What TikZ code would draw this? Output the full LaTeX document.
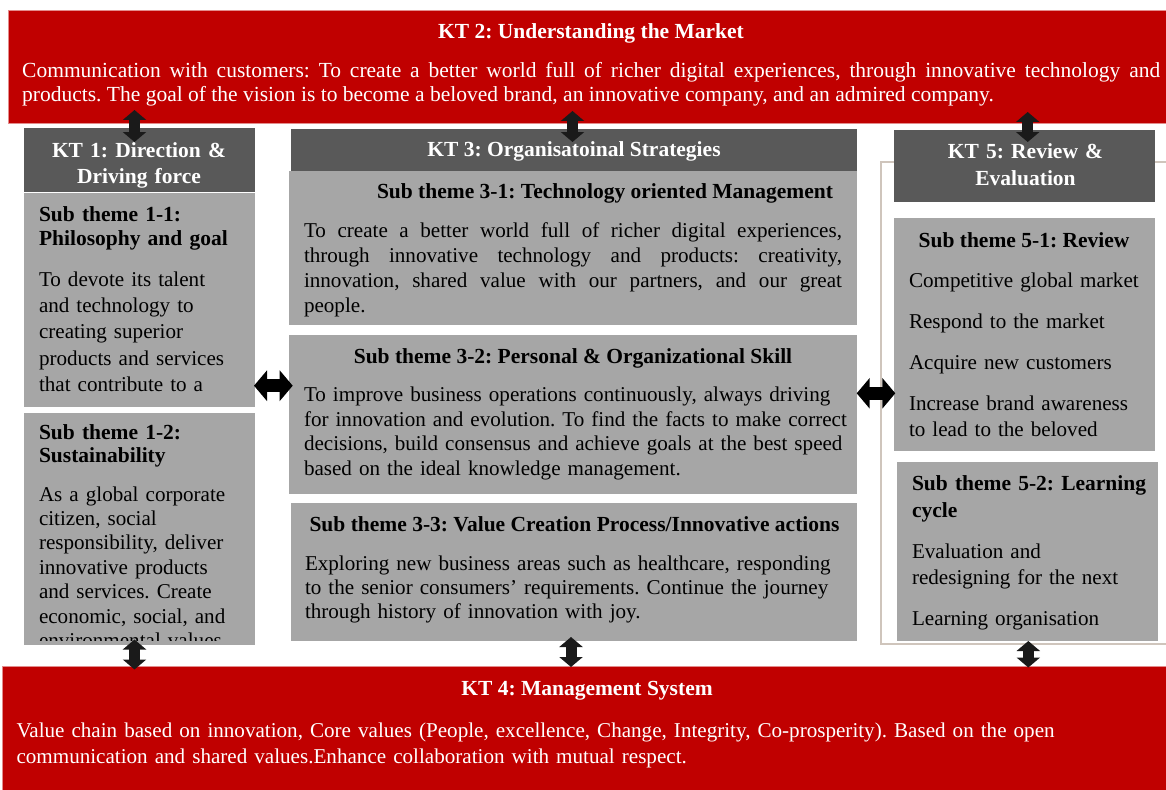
\documentclass[tikz,border=0pt]{standalone}
\usepackage{fontspec}
\setmainfont{Liberation Serif}
\usetikzlibrary{calc, positioning}
\usetikzlibrary{arrows.meta}

\definecolor{ktred}{HTML}{C00000}
\definecolor{ktdark}{HTML}{595959}
\definecolor{ktlight}{HTML}{A6A6A6}
\definecolor{ktframe}{HTML}{CFC5BC}
\definecolor{ktarrow}{HTML}{1A1A1A}

\tikzset{
  panel/.style={anchor=north west, inner sep=0pt, outer sep=0pt},
  redpanel/.style={panel, fill=ktred, draw=ktred!45!white, line width=0.8pt},
  headpanel/.style={panel, fill=ktdark},
  subpanel/.style={panel, fill=ktlight},
  txt/.style={inner sep=0pt, outer sep=0pt, font=\fontsize{21.1}{#1}\selectfont},
  txt/.default=24.5,
  boldtxt/.style={inner sep=0pt, outer sep=0pt, font=\fontsize{21.5}{#1}\selectfont\bfseries},
  boldtxt/.default=24.5,
  headtxt/.style={boldtxt=#1, anchor=base, align=center, text=white},
  headtxt/.default=26.5,
  subtitle/.style={boldtxt=#1, anchor=base west, align=left},
  subtitle/.default=24.5,
  bodytxt/.style={txt=#1, anchor=base west, align=left},
  bodytxt/.default=24.5,
  vlink/.style={ktarrow, line width=11pt,
    {Triangle[length=10pt, width=23pt]}-{Triangle[length=10pt, width=23pt]}},
  hlink/.style={black, line width=12.5pt,
    {Triangle[length=13pt, width=30pt]}-{Triangle[length=13pt, width=30pt]}}
}

\begin{document}
\frenchspacing
\begin{tikzpicture}[x=1pt, y=-1pt]
\useasboundingbox (0,0) rectangle (1166,789);

% KT 2 banner on top
\node[redpanel, minimum width=1160pt, minimum height=113pt] (kt2) at (8,10) {};
\node[headtxt] (kt2title) at (591,38.5) {KT 2: Understanding the Market};
\node[inner sep=0pt, font=\fontsize{21.5}{24.5}\selectfont, anchor=base west, text width=1138pt, align=justify, text=white] (kt2body) at (22,77.5)
  {Communication with customers: To create a better world full of richer digital experiences, through innovative technology and\linebreak
   products. The goal of the vision is to become a beloved brand, an innovative company, and an admired company.};

% KT 1 column
\node[headpanel, minimum width=231pt, minimum height=64pt] (kt1) at (24,128) {};
\node[headtxt, text width=231pt] (kt1title) at (139,157) {KT 1: Direction \&\\Driving force};
\node[subpanel, minimum width=231pt, minimum height=214pt] (st11) at (24,193) {};
\node[subtitle=24.3, text width=212pt] (st11title) at (39,221) {Sub theme 1-1:\\Philosophy and goal};
\node[bodytxt=26.4, text width=212pt] (st11body) at (39,286)
  {To devote its talent\\and technology to\\creating superior\\products and services\\that contribute to a};
\node[subpanel, minimum width=231pt, minimum height=232pt] (st12) at (24,413) {};
\node[subtitle=23.5, text width=212pt] (st12title) at (39,439) {Sub theme 1-2:\\Sustainability};
\begin{scope}
\clip (st12.north west) rectangle (255,640);
\node[bodytxt=24.4, text width=212pt] (st12body) at (39,501)
  {As a global corporate\\citizen, social\\responsibility, deliver\\innovative products\\and services. Create\\economic, social, and\\environmental values};
\end{scope}

% KT 3 column
\node[headpanel, minimum width=566pt, minimum height=42pt] (kt3) at (291,129) {};
\node[headtxt] (kt3title) at (574,156.5) {KT 3: Organisatoinal Strategies};
\node[subpanel, minimum width=568pt, minimum height=154pt] (st31) at (289,171) {};
\node[subtitle] (st31title) at (377,198.5) {Sub theme 3-1: Technology oriented Management};
\node[txt=25, anchor=base west, text width=538pt, align=justify] (st31body) at (304,237.5)
  {To create a better world full of richer digital experiences,\linebreak
   through innovative technology and products: creativity,\linebreak
   innovation, shared value with our partners, and our great\linebreak
   people.};
\node[subpanel, minimum width=568pt, minimum height=159pt] (st32) at (289,335) {};
\node[subtitle, anchor=base] (st32title) at (573,363) {Sub theme 3-2: Personal \& Organizational Skill};
\node[bodytxt, text width=570pt] (st32body) at (304,401.5)
  {To improve business operations continuously, always driving\\for innovation and evolution. To find the facts to make correct\\decisions, build consensus and achieve goals at the best speed\\based on the ideal knowledge management.};
\node[subpanel, minimum width=566pt, minimum height=138pt] (st33) at (291,503) {};
\node[subtitle, anchor=base] (st33title) at (574.5,531) {Sub theme 3-3: Value Creation Process/Innovative actions};
\node[bodytxt=24.3, text width=560pt] (st33body) at (305,570)
  {Exploring new business areas such as healthcare, responding\\to the senior consumers' requirements. Continue the journey\\through history of innovation with joy.};

% KT 5 column inside its frame
\draw[ktframe, line width=1.2pt] (881,162) rectangle (1180,644);
\node[headpanel, minimum width=261pt, minimum height=72pt] (kt5) at (894,130) {};
\node[headtxt=27, text width=261pt] (kt5title) at (1025.5,158.5) {KT 5: Review \&\\Evaluation};
\node[subpanel, minimum width=261pt, minimum height=233pt] (st51) at (894,218) {};
\node[subtitle, anchor=base] (st51title) at (1024,247) {Sub theme 5-1: Review};
\node[bodytxt=26.6, text width=250pt] (st51body) at (909,287)
  {Competitive global market\\[14.5pt]Respond to the market\\[14.5pt]Acquire new customers\\[14.5pt]Increase brand awareness\\to lead to the beloved};
\node[subpanel, minimum width=261pt, minimum height=179pt] (st52) at (897,462) {};
\node[subtitle=27, text width=250pt] (st52title) at (912,490) {Sub theme 5-2: Learning\\cycle};
\node[bodytxt=26, text width=250pt] (st52body) at (912,558)
  {Evaluation and\\redesigning for the next\\[15pt]Learning organisation};

% KT 4 banner at the bottom
\node[redpanel, minimum width=1166pt, minimum height=125pt] (kt4) at (2,666) {};
\node[headtxt] (kt4title) at (587,695.5) {KT 4: Management System};
\node[bodytxt=25.5, text width=1140pt, text=white] (kt4body) at (16.5,737.5)
  {Value chain based on innovation, Core values (People, excellence, Change, Integrity, Co-prosperity). Based on the open\\communication and shared values.Enhance collaboration with mutual respect.};

% Link ends
\coordinate (up1a) at (134.5,110);  \coordinate (up1b) at (134.5,142);
\coordinate (up3a) at (572.5,111);  \coordinate (up3b) at (572.5,142);
\coordinate (up5a) at (1027.7,112); \coordinate (up5b) at (1027.7,142);
\coordinate (dn1a) at (134.5,639.5); \coordinate (dn1b) at (134.5,669.5);
\coordinate (dn3a) at (571,637);    \coordinate (dn3b) at (571,667);
\coordinate (dn5a) at (1028.3,641); \coordinate (dn5b) at (1028.3,667.5);
\coordinate (lr1a) at (254,385.7);  \coordinate (lr1b) at (292.7,385.7);
\coordinate (lr5a) at (856.7,393.3); \coordinate (lr5b) at (895.3,393.3);

% Double arrows between the themes
\draw[vlink] (up1a) -- (up1b);
\draw[vlink] (up3a) -- (up3b);
\draw[vlink] (up5a) -- (up5b);
\draw[vlink] (dn1a) -- (dn1b);
\draw[vlink] (dn3a) -- (dn3b);
\draw[vlink] (dn5a) -- (dn5b);
\draw[hlink] (lr1a) -- (lr1b);
\draw[hlink] (lr5a) -- (lr5b);
\end{tikzpicture}
\end{document}
